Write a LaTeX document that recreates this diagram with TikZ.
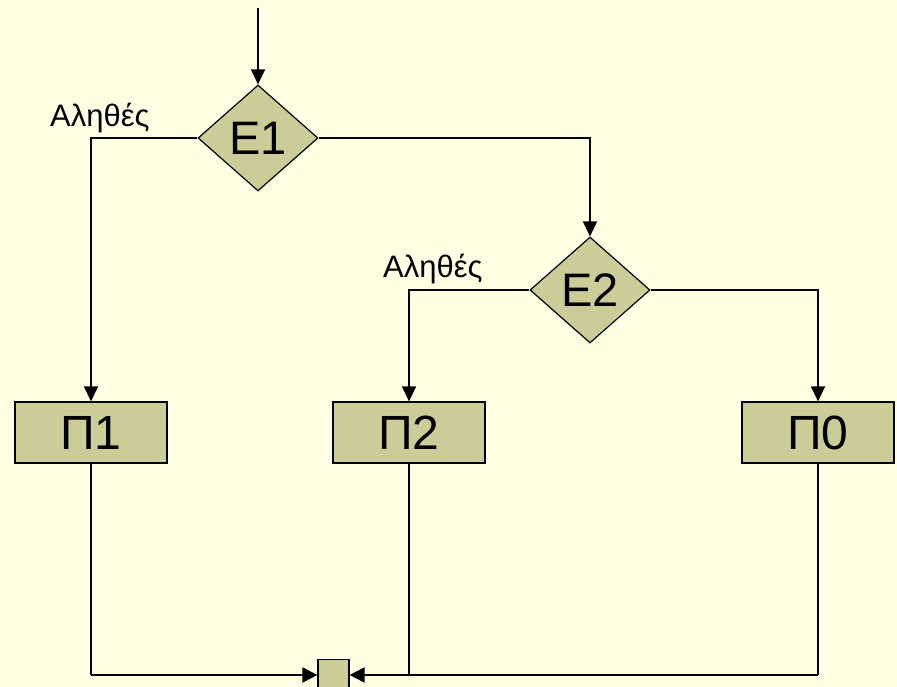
\documentclass[tikz,border=0pt]{standalone}
\usepackage{fontspec}
\setmainfont{Liberation Sans}
\usetikzlibrary{shapes.geometric,arrows.meta}
\definecolor{bgc}{HTML}{FFFFE3}
\definecolor{boxc}{HTML}{CCCC99}
\tikzset{
  x=1pt,y=-1pt,
  dec/.style={diamond,draw=black,line width=1.2pt,fill=boxc,minimum width=120pt,minimum height=106pt,inner sep=0pt,font=\fontsize{46}{46}\selectfont},
  procbox/.style={rectangle,draw=black,line width=1.2pt,fill=boxc,minimum width=152pt,minimum height=61pt,inner sep=0pt,font=\fontsize{48}{48}\selectfont},
  mergebox/.style={rectangle,draw=black,line width=1.2pt,fill=boxc,minimum width=31pt,minimum height=31pt,inner sep=0pt},
  lbl/.style={font=\fontsize{31}{31}\selectfont,inner sep=0pt,anchor=base west},
  arr/.style={line width=1.3pt,-{Triangle[length=15pt,width=14pt]}},
  ln/.style={line width=1.3pt},
  bln/.style={line width=2pt,-{Triangle[length=15pt,width=15pt]}},
}
\begin{document}
\begin{tikzpicture}
\fill[bgc] (0,0) rectangle (897,687);
\useasboundingbox (0,0) rectangle (897,687);
\coordinate (start) at (258,8);
\node[dec,label={center:\fontsize{47}{47}\selectfont E1}] (E1) at (258,138) {};
\node[dec,label={center:\fontsize{47}{47}\selectfont E2}] (E2) at (590,290) {};
\node[procbox] (P1) at (91,432.5) {Π1};
\node[procbox] (P2) at (409,432.5) {Π2};
\node[procbox] (P0) at (818,432.5) {Π0};
\node[mergebox] (M) at (333.5,675) {};
\node[lbl] (t1) at (50,127) {Αληθές};
\node[lbl] (t2) at (383,277) {Αληθές};
\draw[arr] (start) -- (E1.north);
\draw[arr] (E1.west) -| (P1.north);
\draw[arr] (E1.east) -| (E2.north);
\draw[arr] (E2.west) -| (P2.north);
\draw[arr] (E2.east) -| (P0.north);
\draw[ln] (P1.south) -- (P1.south |- M.west);
\draw[bln] (P1.south |- M.west) -- (M.west);
\draw[ln] (P0.south) -- (P0.south |- M.east);
\draw[bln] (P0.south |- M.east) -- (M.east);
\draw[ln] (P2.south) -- (P2.south |- M.east);
\end{tikzpicture}
\end{document}
